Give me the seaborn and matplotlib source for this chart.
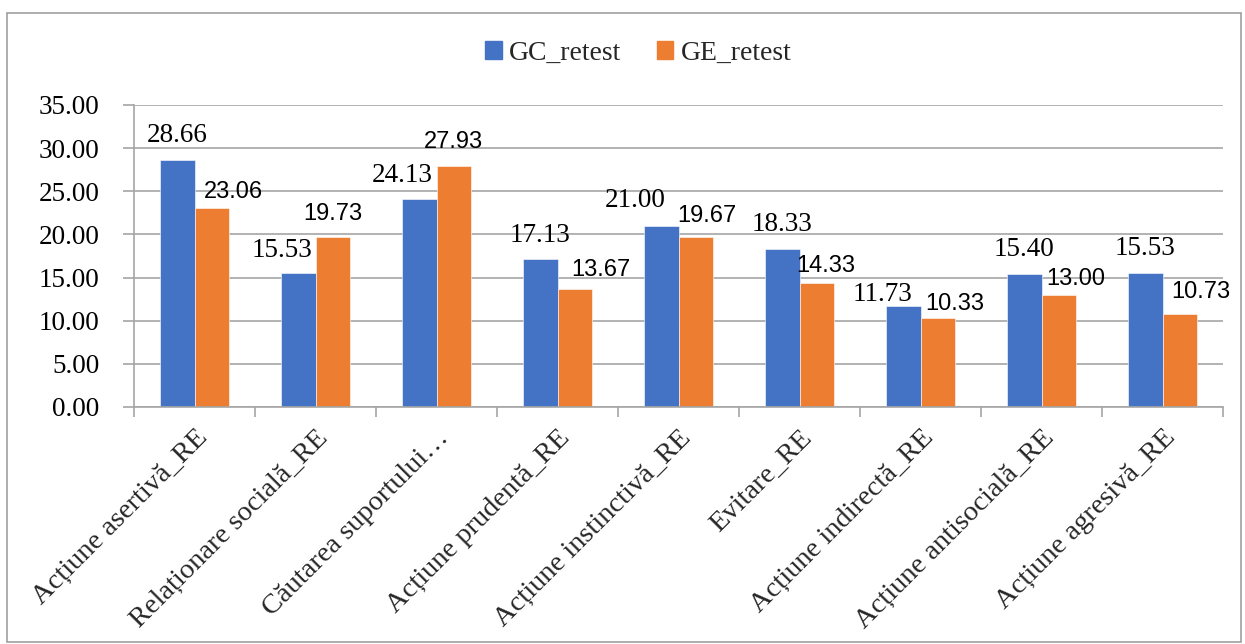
import matplotlib
matplotlib.use("Agg")
import matplotlib.pyplot as plt
from matplotlib.patches import Rectangle
import pandas as pd
import seaborn as sns

categories = [
    "Acțiune asertivă_RE",
    "Relaționare socială_RE",
    "Căutarea suportului…",
    "Acțiune prudentă_RE",
    "Acțiune instinctivă_RE",
    "Evitare_RE",
    "Acțiune indirectă_RE",
    "Acțiune antisocială_RE",
    "Acțiune agresivă_RE",
]
gc_retest = [28.66, 15.53, 24.13, 17.13, 21.00, 18.33, 11.73, 15.40, 15.53]
ge_retest = [23.06, 19.73, 27.93, 13.67, 19.67, 14.33, 10.33, 13.00, 10.73]
series_names = ["GC_retest", "GE_retest"]
y_ticks = [0, 5, 10, 15, 20, 25, 30, 35]

# label nudges (pixels) relative to the top-centre of each bar
gc_label_shift = [(0, 27), (-16, 25), (-17, 26), (0, 26), (-26, 28), (0, 27), (-21, 14), (0, 27), (0, 27)]
ge_label_shift = [(22, 19), (0, 26), (0, 27), (26, 22), (11, 24), (9, 20), (17, 17), (17, 19), (21, 25)]

df = pd.DataFrame({
    "categorie": categories * 2,
    "scor": gc_retest + ge_retest,
    "grup": [series_names[0]] * len(categories) + [series_names[1]] * len(categories),
})

sns.set_theme(style="white")
plt.rcParams["font.family"] = ["Liberation Serif", "DejaVu Serif"]

W, H = 1245, 644
fig = plt.figure(figsize=(W / 100, H / 100), dpi=100)
ax = fig.add_axes([134 / W, 1 - 407 / H, (1223 - 134) / W, (407 - 105) / H])

colors = {"GC_retest": "#4472C4", "GE_retest": "#ED7D31"}
sns.barplot(data=df, x="categorie", y="scor", hue="grup", palette=colors,
            order=categories, hue_order=series_names, width=0.57, gap=0,
            saturation=1, edgecolor="white", linewidth=0.4, ax=ax, legend=False)

ax.set_ylim(0, 35)
ax.set_xlim(-0.5, len(categories) - 0.5)
ax.set_yticks(y_ticks)
ax.set_yticklabels([f"{v:.2f}" for v in y_ticks], fontsize=19.5)
ax.set_xlabel("")
ax.set_ylabel("")

ax.yaxis.grid(True, color="#a6a6a6", linewidth=1.2)
ax.set_axisbelow(True)
for s in ["top", "right"]:
    ax.spines[s].set_visible(False)
for s in ["left", "bottom"]:
    ax.spines[s].set_color("#a6a6a6")
    ax.spines[s].set_linewidth(1.2)

ax.tick_params(axis="y", which="major", length=8, width=1.2, color="#a6a6a6",
               pad=17, labelcolor="black", left=True)
ax.set_xticks(range(len(categories)))
ax.set_xticklabels(categories, rotation=45, ha="right", rotation_mode="anchor",
                   fontsize=20.5)
ax.tick_params(axis="x", which="major", length=0, pad=13)
ax.set_xticks([i - 0.5 for i in range(len(categories) + 1)], minor=True)
ax.tick_params(axis="x", which="minor", length=7, width=1.2, color="#a6a6a6",
               bottom=True)

# value labels
for cont, vals, shifts, fam, size in [
    (ax.containers[0], gc_retest, gc_label_shift, ["Liberation Serif"], 19.5),
    (ax.containers[1], ge_retest, ge_label_shift, ["Liberation Sans"], 17),
]:
    for bar, v, (dx, dy) in zip(cont, vals, shifts):
        xc = bar.get_x() + bar.get_width() / 2
        ax.annotate(f"{v:.2f}", xy=(xc, v), xytext=(dx, dy - 9),
                    textcoords="offset pixels", ha="center", va="baseline",
                    fontsize=size, family=fam, color="black",
                    annotation_clip=False)

# legend
handles = [Rectangle((0, 0), 1, 1, color=colors[n]) for n in series_names]
fig.legend(handles, series_names, loc="center", ncol=2,
           bbox_to_anchor=(638 / W, 1 - 53 / H), frameon=False, fontsize=20,
           handlelength=0.6, handleheight=0.6, handletextpad=0.25,
           columnspacing=1.3)

# outer chart border
fig.add_artist(Rectangle((7 / W, 1 - 642 / H), (1241 - 7) / W, (642 - 13) / H,
                         transform=fig.transFigure, fill=False,
                         edgecolor="#a0a0a0", linewidth=1.2))

fig.savefig("out.png", dpi=100)
